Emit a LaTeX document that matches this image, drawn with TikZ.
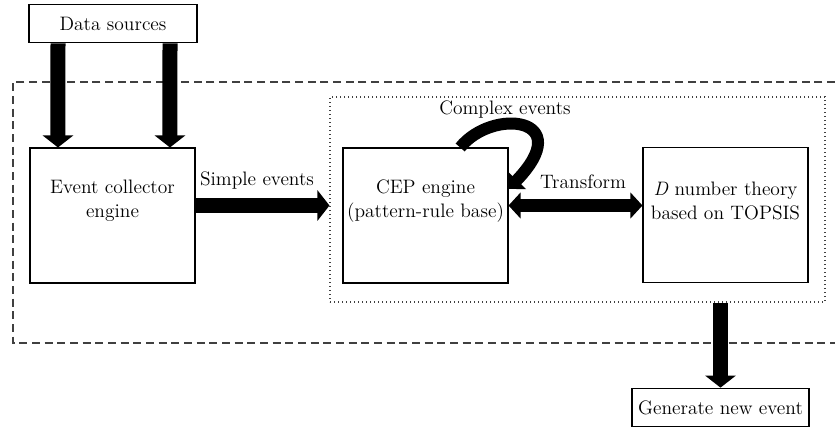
\documentclass[tikz,border=0pt]{standalone}
\usetikzlibrary{arrows.meta}

\tikzset{
  block/.style={draw, line width=0.8pt, minimum width=123.75pt, minimum height=101.25pt, inner sep=0pt},
  smallblock/.style={draw, line width=0.8pt, inner sep=3pt, minimum height=29pt},
  blocktext/.style={align=center, font=\fontsize{14.6}{18}\selectfont},
  lbl/.style={font=\fontsize{14.6}{18}\selectfont},
  bigarrow/.style={line width=11.25pt, -{Triangle[width=22.5pt,length=9pt]}},
  bothways/.style={line width=10pt, {Triangle[width=19pt,length=9pt]}-{Triangle[width=19pt,length=9pt]}},
  loopy/.style={line width=9pt, -{Triangle[width=19pt,length=9pt]}}
}

\begin{document}
\begin{tikzpicture}[x=0.75pt,y=-0.75pt]
        \useasboundingbox (0,0) rectangle (835,430);
        % frames (outer one runs off the right edge)
        \draw[line width=0.8pt, dash pattern=on 6pt off 3.5pt, color=black!75] (835,82) -| (13,343) -- (835,343);
        \node[draw, line width=0.8pt, dash pattern=on 0.7pt off 2.3pt, color=black!75, minimum width=371.25pt, minimum height=153.75pt, inner sep=0pt] (inner) at (577.5,199.5) {};
        % boxes
        \node[smallblock, lbl, minimum width=126pt] (src) at (113,23.5) {Data sources};
        \node[block] (collector) at (112.5,215.5) {};
        \node[block] (cep) at (425.5,215.5) {};
        \node[block] (dnum) at (725.5,215) {};
        \node[smallblock, lbl, minimum width=132.75pt] (gen) at (720.5,407.5) {Generate new event};
        \node[blocktext] (collectortext) at (112.5,201) {Event collector\\engine};
        \node[blocktext] (ceptext) at (425.5,201) {CEP engine\\(pattern-rule base)};
        \node[blocktext] (dnumtext) at (725.5,201) {\textit{D} number theory\\based on TOPSIS};
        % arrows
        \draw[bigarrow] ([xshift=-41.25pt]src.south) -- ([xshift=-40.9pt]collector.north);
        \draw[bigarrow] ([xshift=42.75pt]src.south) -- ([xshift=43.1pt]collector.north);
        \coordinate (se) at ([yshift=7.5pt]collector.east);
        \draw[bigarrow] (se) -- (se -| inner.west);
        \coordinate (ce) at ([yshift=7.5pt]cep.east);
        \draw[bothways] (ce) -- (ce -| dnum.west);
        \draw[loopy] ([xshift=26pt]cep.north) .. controls +(24pt,30pt) and +(52pt,54pt) .. ([yshift=20pt]cep.east);
        \draw[bigarrow] (inner.south -| gen.north) -- (gen.north);
        % labels
        \node[lbl] (simple) at (257,181) {Simple events};
        \node[lbl] (transform) at (583,182) {Transform};
        \node[lbl] (complex) at (505,110) {Complex events};
\end{tikzpicture}
\end{document}
